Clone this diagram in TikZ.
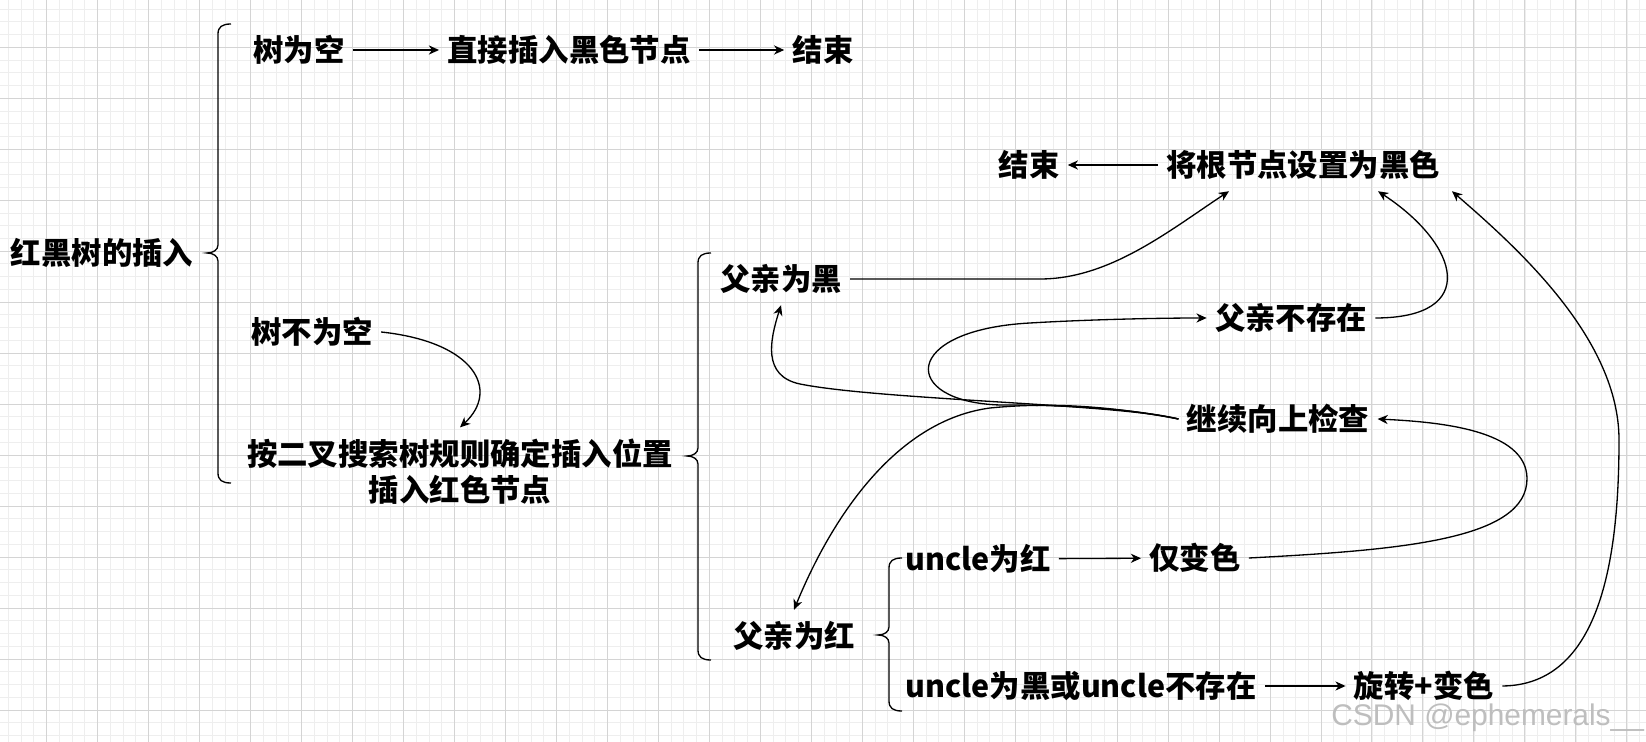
\documentclass[tikz,border=0pt]{standalone}
\usepackage{fontspec}
\usepackage{tikz}
\usetikzlibrary{arrows.meta,positioning,calc}
\newfontfamily\cjk{Noto Sans CJK SC}
\setsansfont{Liberation Sans}
\definecolor{gridminor}{RGB}{238,238,238}
\definecolor{gridmajor}{RGB}{212,212,212}
\definecolor{wmgray}{RGB}{190,190,190}
\tikzset{
  lbl/.style={inner xsep=1.6mm,inner ysep=2.4mm,text height=14.5pt,text depth=1.3pt,
    font=\cjk\bfseries\fontsize{17.3}{20.9}\selectfont},
  link/.style={line width=0.75pt,-{Stealth[length=5.8pt,width=5.2pt,inset=1.8pt]}},
  bracket/.style={line width=0.75pt}
}

\begin{document}
\begin{tikzpicture}[x=0.2mm,y=0.2mm]
  \useasboundingbox (0,0) rectangle (1646,-742);
  \fill[white] (0,0) rectangle (1646,-742); % paper
  \foreach \i in {0,...,128}{
    \draw[gridminor,line width=0.2mm] ({8.5+12.745*\i},0) -- ++(0,-742);
  }
  \foreach \j in {0,...,57}{
    \draw[gridminor,line width=0.2mm] (0,{-9.1-12.745*\j}) -- ++(1646,0);
  }
  \foreach \i in {0,...,31}{
    \draw[gridmajor,line width=0.2mm] ({46.5+50.98*\i},0) -- ++(0,-742);
  }
  \foreach \j in {0,...,13}{
    \draw[gridmajor,line width=0.2mm] (0,{-47.3-50.98*\j}) -- ++(1646,0);
  }

  % braces: x / top / tip / bottom
  \foreach \bx/\btop/\btip/\bbot in {218/24/253/483, 698/253/456/660, 889/558/635/711}{
    \draw[bracket] ({\bx+13},{-\btop}) .. controls ({\bx+4},{-\btop}) and (\bx,{-\btop-3}) .. (\bx,{-\btop-10})
      -- (\bx,{-\btip+8}) .. controls (\bx,{-\btip+3}) and ({\bx-5},{-\btip}) .. ({\bx-11},{-\btip})
      .. controls ({\bx-5},{-\btip}) and (\bx,{-\btip-3}) .. (\bx,{-\btip-8})
      -- (\bx,{-\bbot+10}) .. controls (\bx,{-\bbot+3}) and ({\bx+4},{-\bbot}) .. ({\bx+13},{-\bbot});
  }

  \node[lbl] (root) at (102,-253) {红黑树的插入};
  \node[lbl] (empty) at (299,-50) {树为空};
  \node[lbl] (direct) at (569,-50) {直接插入黑色节点};
  \node[lbl] (endA) at (823,-50) {结束};
  \node[lbl] (nonempty) at (312,-332) {树不为空};
  \node[lbl,align=center,text height=35.4pt] (place) at (460,-472) {按二叉搜索树规则确定插入位置\\插入红色节点};
  \node[lbl] (endB) at (1029,-165) {结束};
  \node[lbl] (setblack) at (1303,-165) {将根节点设置为黑色};
  \node[lbl] (pblack) at (781,-279) {父亲为黑};
  \node[lbl] (pnone) at (1291,-318) {父亲不存在};
  \node[lbl] (goup) at (1278,-419) {继续向上检查};
  \node[lbl] (pred) at (794,-636) {父亲为红};
  \node[lbl] (ured) at (978,-559) {uncle为红};
  \node[lbl] (recolor) at (1195,-558) {仅变色};
  \node[lbl] (ublack) at (1081,-686) {uncle为黑或uncle不存在};
  \node[lbl] (rotate) at (1424,-686) {旋转+变色};
  \node[anchor=base west,inner sep=0,font=\sffamily\fontsize{17}{20}\selectfont,text=wmgray] (mark) at (1331,-725) {CSDN @ephemerals\_\_};

  \draw[link] (empty) -- (direct);
  \draw[link] (direct) -- (endA);
  \draw[link] (setblack) -- (endB);
  \draw[link] (ured) -- (recolor);
  \draw[link] (ublack) -- (rotate);
  \draw[link] (nonempty.east) .. controls (475,-342) and (500,-390) .. (place.north);
  \draw[link] (pblack.east) -- ++(190,0) .. controls (1110,-279) and (1170,-230) .. ($(setblack.south)+(-74,0)$);
  \draw[link] (pnone.east) .. controls (1480,-318) and (1460,-245) .. ($(setblack.south)+(75,0)$);
  \draw[link] (rotate.east) .. controls (1600,-685) and (1619,-560) .. (1619,-440)
    .. controls (1619,-340) and (1520,-250) .. ($(setblack.south)+(149,0)$);
  \draw[link] (recolor.east) .. controls (1400,-550) and (1528,-540) .. (1527,-478)
    .. controls (1526,-430) and (1440,-422) .. (goup.east);
  \draw[link] (goup.west) .. controls (1120,-404) and (880,-400) .. (800,-384)
    .. controls (762,-376) and (770,-340) .. (pblack.south);
  \draw[link] (goup.west) .. controls (1120,-406) and (1040,-405) .. (1000,-405)
    .. controls (900,-402) and (900,-330) .. (1030,-323) .. controls (1080,-320) and (1150,-318) .. (pnone.west);
  \draw[link] (goup.west) .. controls (1100,-404) and (1040,-403) .. (990,-408)
    .. controls (900,-420) and (835,-510) .. (pred.north);
\end{tikzpicture}
\end{document}
